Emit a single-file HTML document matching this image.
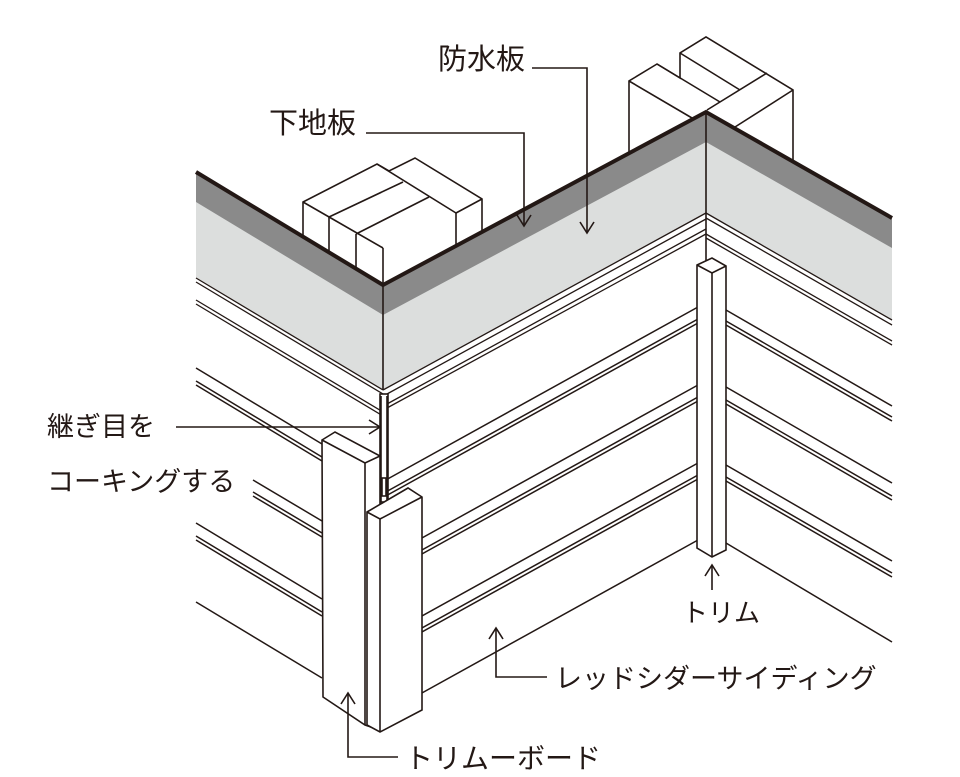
<!DOCTYPE html>
<html><head><meta charset="utf-8"><style>
html,body{margin:0;padding:0;background:#fff;}
svg{display:block;}
text{font-family:"Liberation Sans","Noto Sans CJK JP",sans-serif;font-size:28px;fill:#231815;}
</style></head><body>
<svg width="960" height="777" viewBox="0 0 960 777" xmlns="http://www.w3.org/2000/svg">
<g fill="none" stroke="#231815" stroke-width="1.6" stroke-linejoin="miter">
<polygon points="196,172 383,285 706,112 892,218 892,320 706,213 383,390 196,278" fill="#dcdedd" stroke="none"/>
<polygon points="196,172 383,285 706,112 892,218 892,248 706,142 383,315 196,202" fill="#8a8a8a" stroke="none"/>
<line x1="383" y1="285" x2="383" y2="390"/>
<line x1="706" y1="112" x2="706" y2="262"/>

<polygon points="303,237 303,202 377,164 389,171 415,158 482,199 482,232 383,285" fill="#fff"/>
<line x1="377" y1="164" x2="456" y2="213"/>
<line x1="303" y1="202" x2="383" y2="248"/>
<line x1="329" y1="217" x2="403" y2="182"/>
<line x1="356" y1="234" x2="429" y2="197"/>
<line x1="456" y1="213" x2="482" y2="199"/>
<line x1="329" y1="217" x2="329" y2="253"/>
<line x1="356" y1="234" x2="356" y2="269"/>
<line x1="383" y1="248" x2="383" y2="285"/>
<line x1="456" y1="213" x2="456" y2="247"/>

<polygon points="629,153 629,81 657,64 680,78 680,53 706,37 793,90 793,162 706,112" fill="#fff"/>
<line x1="657" y1="64" x2="720" y2="102"/>
<line x1="629" y1="81" x2="692" y2="118"/>
<line x1="680" y1="53" x2="740" y2="90"/>
<line x1="707" y1="110" x2="767" y2="73"/>
<line x1="735" y1="127" x2="793" y2="90"/>

<polyline points="196,172 383,285 706,112 892,218" stroke-width="4"/>

<g stroke-width="1.3">
<line x1="196" y1="278" x2="383" y2="390"/><line x1="196" y1="282" x2="383" y2="394"/>
<line x1="196" y1="300" x2="383" y2="412"/><line x1="196" y1="304" x2="383" y2="416"/>
<line x1="383" y1="390" x2="706" y2="213"/><line x1="387" y1="394" x2="706" y2="219"/>
<line x1="387" y1="404" x2="706" y2="229"/><line x1="387" y1="408" x2="706" y2="234"/>
<line x1="706" y1="213" x2="892" y2="320"/><line x1="706" y1="218" x2="892" y2="325"/>
<line x1="706" y1="234" x2="892" y2="341"/><line x1="706" y1="238" x2="892" y2="345"/>
</g>

<g stroke-width="1.5">
<line x1="196" y1="368" x2="322" y2="444"/>
<line x1="196" y1="381" x2="322" y2="457"/><line x1="196" y1="385" x2="322" y2="461"/>
<line x1="253" y1="480" x2="322" y2="521"/>
<line x1="253" y1="492" x2="322" y2="533"/><line x1="253" y1="496" x2="322" y2="537"/>
<line x1="196" y1="523" x2="322" y2="599"/>
<line x1="196" y1="536" x2="322" y2="612"/><line x1="196" y1="540" x2="322" y2="616"/>
<line x1="196" y1="602" x2="322" y2="678"/>
<line x1="384" y1="481" x2="698" y2="307"/>
<line x1="384" y1="493" x2="698" y2="319"/><line x1="384" y1="497" x2="698" y2="323"/>
<line x1="384" y1="559" x2="698" y2="385"/>
<line x1="384" y1="571" x2="698" y2="397"/><line x1="384" y1="575" x2="698" y2="401"/>
<line x1="384" y1="637" x2="698" y2="463"/>
<line x1="384" y1="649" x2="698" y2="475"/><line x1="384" y1="653" x2="698" y2="479"/>
<line x1="384" y1="714" x2="698" y2="540"/>
<line x1="726" y1="310" x2="892" y2="406"/>
<line x1="726" y1="321" x2="892" y2="417"/><line x1="726" y1="325" x2="892" y2="421"/>
<line x1="726" y1="387" x2="892" y2="483"/>
<line x1="726" y1="400" x2="892" y2="496"/><line x1="726" y1="404" x2="892" y2="500"/>
<line x1="726" y1="465" x2="892" y2="561"/>
<line x1="726" y1="477" x2="892" y2="573"/><line x1="726" y1="481" x2="892" y2="577"/>
<line x1="726" y1="543" x2="892" y2="642"/>
</g>

<polygon points="697,265 712,258 726,266 726,550 712,557 697,548" fill="#fff"/>
<polyline points="697,265 712,273 726,266"/>
<line x1="712" y1="273" x2="712" y2="557"/>

<rect x="380" y="394" width="8" height="108" fill="#fff"/>
<line x1="381" y1="396" x2="381" y2="502"/><line x1="387" y1="396" x2="387" y2="502"/>
<rect x="382" y="478" width="4" height="18" fill="#fff"/>

<polygon points="322,440 335,432 380,456 380,730 365,725 323,697" fill="#fff"/>
<polyline points="322,440 365,463 380,456"/>
<line x1="365" y1="463" x2="365" y2="725"/>
<polygon points="367,512 408,488 422,497 422,710 380,732 367,725" fill="#fff"/>
<polyline points="367,512 380,519 422,497"/>
<line x1="380" y1="519" x2="380" y2="732"/>

<polyline points="532,68 587,68 587,233"/>
<polyline points="580,222 587,233 594,222"/>
<polyline points="366,133 524,133 524,226"/>
<polyline points="517,215 524,226 531,215"/>
<line x1="176" y1="427" x2="380" y2="427"/>
<polyline points="369,420 380,427 369,434"/>
<line x1="712" y1="590" x2="712" y2="565"/>
<polyline points="705,576 712,565 719,576"/>
<polyline points="547,677 496,677 496,628"/>
<polyline points="489,639 496,628 503,639"/>
<polyline points="398,757 348,757 348,693"/>
<polyline points="341,704 348,693 355,704"/>
</g>

<text x="438" y="69" style="font-size:29px">防水板</text>
<text x="269" y="133" style="font-size:29px">下地板</text>
<text x="47" y="436" style="font-size:27px">継ぎ目を</text>
<text x="47" y="491" style="font-size:27px">コーキングする</text>
<text x="682" y="622" style="font-size:26px">トリム</text>
<text x="555" y="688" style="font-size:27px">レッドシダーサイディング</text>
<text x="405" y="768" style="font-size:28px">トリムーボード</text>
</svg>
</body></html>
